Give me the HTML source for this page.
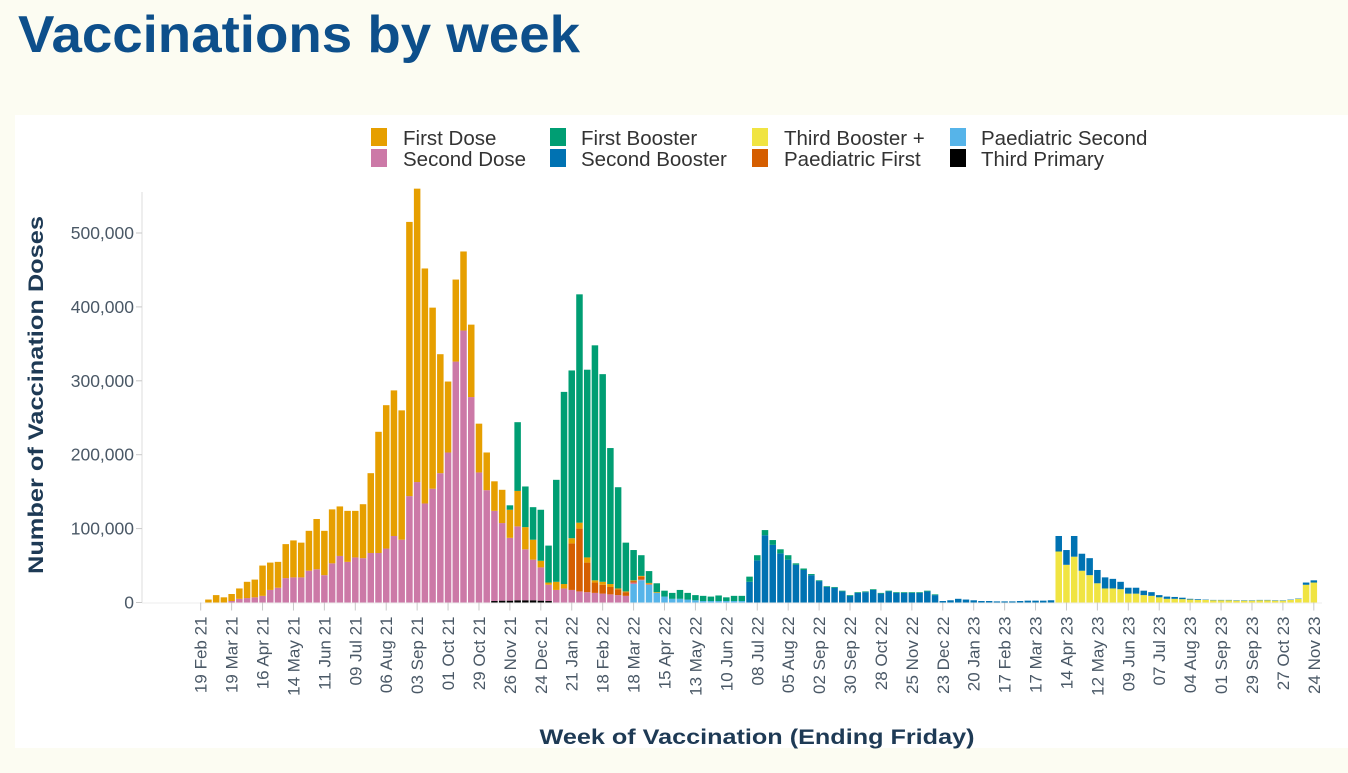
<!DOCTYPE html>
<html><head><meta charset="utf-8"><style>
html,body{margin:0;padding:0;background:#fcfcf2;}
svg{display:block;font-family:"Liberation Sans",Arial,sans-serif;}
</style></head><body>
<svg id="chart" width="1348" height="773" viewBox="0 0 1348 773" xmlns="http://www.w3.org/2000/svg">
<rect x="0" y="0" width="1348" height="773" fill="#fcfcf2"/>
<text x="18" y="52" font-size="52" font-weight="bold" fill="#0d4f8b" textLength="562" lengthAdjust="spacingAndGlyphs">Vaccinations by week</text>
<rect x="15" y="115" width="1333" height="633" fill="#ffffff"/>
<g id="legend" font-size="20.5" fill="#333">
 <g><rect x="371" y="128" width="16" height="18" fill="#e69f00"/><text x="403" y="145">First Dose</text></g>
 <g><rect x="371" y="149" width="16" height="18" fill="#cc79a7"/><text x="403" y="166">Second Dose</text></g>
 <g><rect x="550" y="128" width="16" height="18" fill="#009e73"/><text x="581" y="145">First Booster</text></g>
 <g><rect x="550" y="149" width="16" height="18" fill="#0072b2"/><text x="581" y="166">Second Booster</text></g>
 <g><rect x="752" y="128" width="16" height="18" fill="#f0e442"/><text x="784" y="145">Third Booster +</text></g>
 <g><rect x="752" y="149" width="16" height="18" fill="#d55e00"/><text x="784" y="166">Paediatric First</text></g>
 <g><rect x="950" y="128" width="16" height="18" fill="#56b4e9"/><text x="981" y="145">Paediatric Second</text></g>
 <g><rect x="950" y="149" width="16" height="18" fill="#000000"/><text x="981" y="166">Third Primary</text></g>
</g>
<g id="axes"></g>
<g id="bars"></g>
<text x="0" y="0" transform="translate(43,395) rotate(-90)" text-anchor="middle" font-size="21" font-weight="bold" fill="#1e3a55" textLength="358" lengthAdjust="spacingAndGlyphs">Number of Vaccination Doses</text>
<text x="757" y="744" text-anchor="middle" font-size="21" font-weight="bold" fill="#1e3a55" textLength="435" lengthAdjust="spacingAndGlyphs">Week of Vaccination (Ending Friday)</text>
</svg>
<script>
// values in thousands of doses, each series begins at its start week index (week 0 = 19 Feb 21)
const tickLabels = ["19 Feb 21","19 Mar 21","16 Apr 21","14 May 21","11 Jun 21","09 Jul 21","06 Aug 21","03 Sep 21","01 Oct 21","29 Oct 21","26 Nov 21","24 Dec 21","21 Jan 22","18 Feb 22","18 Mar 22","15 Apr 22","13 May 22","10 Jun 22","08 Jul 22","05 Aug 22","02 Sep 22","30 Sep 22","28 Oct 22","25 Nov 22","23 Dec 22","20 Jan 23","17 Feb 23","17 Mar 23","14 Apr 23","12 May 23","09 Jun 23","07 Jul 23","04 Aug 23","01 Sep 23","29 Sep 23","27 Oct 23","24 Nov 23"];
const yTicks = [0,100,200,300,400,500];
const yTickLabels = ["0","100,000","200,000","300,000","400,000","500,000"];
const weekCount = 145;

const thirdPrimaryStart = 38;
const thirdPrimary = [2,2.5,2.5,3,3,3,2.5,2];
const paedSecondStart = 56;
const paedSecond = [25,30,24,13,8,5,5,4,3,2,2,2,2,2,2];
const secondDoseStart = 0;
const secondDose = [0,0,0,0,2,5,6,7,9,17,
 20,33,34,34,43,45,37,53,63,55,
 61,60,67,67,73,90,85,144,163,134,
 154,175,203,326,368,278,176,152,122,105,
 85,100,69,55,45,22,17,19,17,15,
 14,13,12,11,10,9,2,1,0.5];
const paedFirstStart = 48;
const paedFirst = [63,85,40,14,12,10,8,5,2,4,1];
const firstDoseStart = 0;
const firstDose = [0,4,10,7,9.5,14,22,24,41,37,
 35,46,50,47,54,68,60,73,67,69,
 63,73,108,164,194,197,175,371,397,318,
 245,161,96,111,107,98,66,51,40,45,
 38,48,30,27,9,3,11,6,7,8,
 7,3,4,4,1,1,1,1,1,1];
const thirdBoosterStart = 111;
const thirdBooster = [69,51,62,43,37,26,19,19,18,12,
 12,10,9,7,5,5,4.5,4,3.5,3.5,
 3,3,3,2.5,2.5,2.5,3,3,2.5,2.5,3.5,5,
 24,27];
const secondBoosterStart = 71;
const secondBooster = [28,57,91,78,66.5,58,51,44,37,29,
 21,20,15,9,13,14,17,12,15,13,
 13,13,13,15,10,2,3,5,4,3,
 2,2,1.5,1.5,1.5,2,2.5,2.5,2.5,3,
 21,20,28,23,23,18,15,13,10,8,
 8,6,5,3,3,2.5,2,1,1,0.5,
 0.5,0.5,0.5,0.5,0.5,0.5,0.5,0.5,0.5,0.5,0.5,0.5,
 3,3];
const firstBoosterStart = 40;
const firstBooster = [6,93,55,44,69,50,138,260,227,309,
 254,318,281,184,137,66,41,28,16,12,
 8,8,12,9,7,7,6,7.5,5,7,
 7,7,7,7,6.5,5.5,6,2,2,1.5,
 1,1,1,1,1,1,1,1,1,1,1,1,1,1,1,1];

const NS = "http://www.w3.org/2000/svg";
const x0 = 200.7, step = 7.73, barW = 6.5;
const yBase = 602.5, yScale = 0.739;
function xScale(i){ return x0 + step * i; }
function yPos(v){ return yBase - v * yScale; }

const seriesList = [
 {name:"third-primary", color:"#000000", start:thirdPrimaryStart, vals:thirdPrimary},
 {name:"paediatric-second", color:"#56b4e9", start:paedSecondStart, vals:paedSecond},
 {name:"second-dose", color:"#cc79a7", start:secondDoseStart, vals:secondDose},
 {name:"paediatric-first", color:"#d55e00", start:paedFirstStart, vals:paedFirst},
 {name:"first-dose", color:"#e69f00", start:firstDoseStart, vals:firstDose},
 {name:"third-booster", color:"#f0e442", start:thirdBoosterStart, vals:thirdBooster},
 {name:"second-booster", color:"#0072b2", start:secondBoosterStart, vals:secondBooster},
 {name:"first-booster", color:"#009e73", start:firstBoosterStart, vals:firstBooster}
];

const axes = document.getElementById("axes");
const bars = document.getElementById("bars");

const yl = document.createElementNS(NS,"line");
yl.setAttribute("x1",142);yl.setAttribute("x2",142);yl.setAttribute("y1",192);yl.setAttribute("y2",yBase);
yl.setAttribute("stroke","#e3e3e3");yl.setAttribute("stroke-width","1.2");


axes.appendChild(yl);
yTicks.forEach((t,k)=>{
  const y = yPos(t);
  const tk = document.createElementNS(NS,"line");
  tk.setAttribute("x1",136);tk.setAttribute("x2",142);tk.setAttribute("y1",y);tk.setAttribute("y2",y);
  tk.setAttribute("stroke","#c8c8c8");
  
  
  axes.appendChild(tk);
  const tx = document.createElementNS(NS,"text");
  tx.setAttribute("x",134);tx.setAttribute("y",y+6);tx.setAttribute("text-anchor","end");
  tx.setAttribute("font-size","17.5");tx.setAttribute("fill","#4a5866");
  tx.textContent = yTickLabels[k];
  
  
  axes.appendChild(tx);
});
const xl = document.createElementNS(NS,"line");
xl.setAttribute("x1",142);xl.setAttribute("x2",1322);xl.setAttribute("y1",yBase+0.5);xl.setAttribute("y2",yBase+0.5);
xl.setAttribute("stroke","#ececec");


axes.appendChild(xl);
tickLabels.forEach((lab,k)=>{
  const x = xScale(k*4);
  const tk = document.createElementNS(NS,"line");
  tk.setAttribute("x1",x);tk.setAttribute("x2",x);tk.setAttribute("y1",yBase);tk.setAttribute("y2",yBase+8);
  tk.setAttribute("stroke","#c8c8c8");
  
  
  axes.appendChild(tk);
  const tx = document.createElementNS(NS,"text");
  tx.setAttribute("transform","translate("+(x+6)+","+(yBase+14)+") rotate(-90)");
  tx.setAttribute("text-anchor","end");
  tx.setAttribute("font-size","17");tx.setAttribute("fill","#4a5866");
  tx.textContent = lab;
  
  
  axes.appendChild(tx);
});

for(let i=0;i<weekCount;i++){
  let cum = 0;
  seriesList.forEach(s=>{
    const j = i - s.start;
    if(j<0 || j>=s.vals.length) return;
    const v = s.vals[j];
    if(!v) return;
    const r = document.createElementNS(NS,"rect");
    r.setAttribute("x", xScale(i)-barW/2);
    r.setAttribute("width", barW);
    r.setAttribute("y", yPos(cum+v));
    r.setAttribute("height", v*yScale);
    r.setAttribute("fill", s.color);
    
    
    bars.appendChild(r);
    cum += v;
  });
}
</script>
</body></html>
